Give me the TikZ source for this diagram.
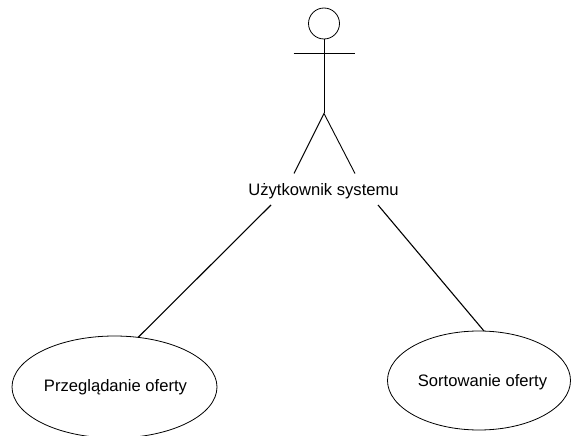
\documentclass[tikz,border=0pt]{standalone}
\usepackage{fontspec}
\setmainfont{Liberation Sans}
\usetikzlibrary{shapes.geometric}
\tikzset{
  usecase/.style={draw,ellipse,inner sep=0pt},
  limb/.style={draw,line width=0.9pt},
  assoc/.style={draw,line width=1.1pt}
}
\begin{document}
\begin{tikzpicture}[x=1pt,y=-1pt,line width=0.8pt,font=\fontsize{16.6}{18}\selectfont]
  \useasboundingbox (0,0) rectangle (571,436);
  \clip (0,0) rectangle (571,436);
  % actor
  \node[draw,circle,minimum size=31pt,inner sep=0pt] (head) at (324,23.5) {};
  \coordinate (armleft) at (293.5,53.5);
  \coordinate (armright) at (355,53.5);
  \coordinate (hip) at (324,113.5);
  \coordinate (footleft) at (294,173.5);
  \coordinate (footright) at (355,173.5);
  \path[limb] (head.south) -- (hip);
  \path[limb] (armleft) -- (armright);
  \path[limb] (footleft) -- (hip) -- (footright);
  \node (actor) at (323.5,191) {Użytkownik systemu};
  % use cases
  \node[usecase,minimum width=205pt,minimum height=102pt] (browse) at (114.5,387) {};
  \node (browsetext) at (115.5,387) {Przeglądanie oferty};
  \node[usecase,minimum width=183pt,minimum height=99pt] (sort) at (479,380.5) {};
  \node (sorttext) at (482.5,382) {Sortowanie oferty};
  % connectors
  \coordinate (actorleft) at (271,205);
  \coordinate (actorright) at (378,205);
  \coordinate (browsetop) at (138,337.5);
  \coordinate (sorttop) at (484,331);
  \path[assoc] (actorleft) -- (browsetop);
  \path[assoc] (actorright) -- (sorttop);
\end{tikzpicture}
\end{document}
